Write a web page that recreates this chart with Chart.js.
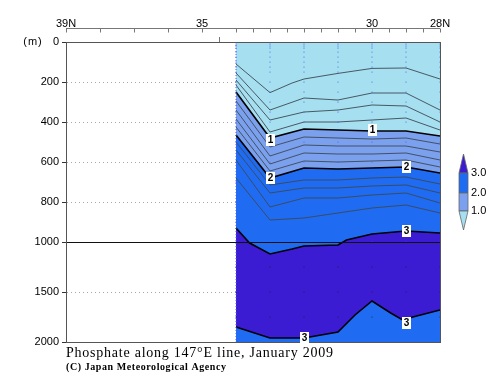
<!DOCTYPE html>
<html>
<head>
<meta charset="utf-8">
<script src="https://cdn.jsdelivr.net/npm/chart.js@4.4.1/dist/chart.umd.min.js"></script>
<style>
  html, body { margin: 0; padding: 0; background: #fff; }
  #wrap { width: 500px; height: 387px; }
</style>
</head>
<body>
<div id="wrap"><canvas id="c"></canvas></div>
<script>
// stations along 147E (deg N)
const stations = [34, 33, 32, 31, 30, 29, 28];
const sampleDepths = [0, 10, 20, 30, 50, 75, 100, 125, 150, 200, 250, 300, 350, 400, 500, 600, 700, 800, 900, 1000, 1250, 1500, 1750, 2000];
const surface = [0, 0, 0, 0, 0, 0, 0];

// contour depths (m)
const latA = [34, 33, 32.35, 32, 31, 30, 29, 28];
const c02 = [110, 253, 205, 185, 157, 132, 130, 185];
const c04 = [155, 340, 280, 290, 255, 255, 340];
const c06 = [190, 390, 350, 340, 315, 320, 400];
const c08 = [215, 450, 400, 400, 390, 380, 440];
const c10 = [250, 480, 435, 440, 445, 445, 470];
const c12 = [295, 525, 475, 480, 485, 480, 510];
const c14 = [340, 570, 515, 520, 520, 520, 550];
const c16 = [385, 610, 555, 560, 560, 555, 590];
const c18 = [425, 645, 595, 600, 595, 590, 625];
const c20 = [465, 680, 630, 635, 630, 625, 655];
const c22 = [500, 715, 690, 690, 680, 675, 710];
const c24 = [540, 755, 730, 730, 720, 715, 755];
const c26 = [590, 825, 780, 780, 765, 755, 805];
const c28 = [680, 890, 880, 855, 830, 815, 855];
const lat30u = [34, 33.6, 33, 32.35, 32, 31, 30.75, 30, 29, 28];
const c30u = [930, 1010, 1120, 1070, 1040, 1030, 990, 960, 945, 955];
const lat30l = [34, 33, 32, 31, 30.5, 30, 29.45, 29.1, 28.8, 28];
const c30l = [1850, 1960, 1960, 1900, 1730, 1590, 1710, 1780, 1750, 1680];

// contour labels
const labelLat = [33, 30, 33, 29, 29, 32, 29];
const labelDepth = [490, 440, 680, 625, 945, 1960, 1810];
const labelText = ['1', '1', '2', '2', '3', '3', '3'];

// axes
const yTickDepths = [0, 200, 400, 600, 800, 1000, 1500, 2000];
const topLabels = [[39, '39N'], [35, '35'], [30, '30'], [28, '28N']];
const legendLevels = ['1.0', '2.0', '3.0'];
const bandColors = ['#a6dff0', '#7aa0ee', '#1f6cf2', '#3c1cd2'];

// depth below 1000 m is drawn at half scale
const tY = d => d <= 1000 ? d : 1000 + (d - 1000) / 2;
const pts = (lats, depths) => lats.map((x, i) => ({ x, y: tY(depths[i]) }));

function band(lats, depths, color, order, thick) {
  return {
    type: 'line', data: pts(lats, depths),
    borderColor: thick ? '#000' : 'transparent', borderWidth: thick ? 1.6 : 0,
    backgroundColor: color, fill: { value: tY(2000) },
    pointRadius: 0, tension: 0, order
  };
}
function iso(lats, depths) {
  return {
    type: 'line', data: pts(lats, depths), borderColor: '#3c4854', borderWidth: 0.9,
    fill: false, pointRadius: 0, tension: 0, order: 3
  };
}

const samplePts = [];
stations.forEach(s => sampleDepths.forEach(d => samplePts.push({ x: s, y: tY(d) })));

const datasets = [
  band(stations, surface, bandColors[0], 20, false),
  band(stations, c10, bandColors[1], 19, true),
  band(stations, c20, bandColors[2], 18, true),
  band(lat30u, c30u, bandColors[3], 17, true),
  band(lat30l, c30l, bandColors[2], 16, true),
  iso(latA, c02), iso(stations, c04), iso(stations, c06), iso(stations, c08),
  iso(stations, c12), iso(stations, c14), iso(stations, c16), iso(stations, c18),
  iso(stations, c22), iso(stations, c24), iso(stations, c26), iso(stations, c28),
  {
    type: 'line', data: [{ x: 34, y: 0 }, { x: 34, y: tY(2000) }], borderColor: '#4a5cff',
    borderWidth: 1, borderDash: [1, 2], pointRadius: 0, fill: false, order: 2
  },
  {
    type: 'scatter', data: samplePts, order: 1, pointRadius: 0.6, pointBorderWidth: 0,
    pointBackgroundColor: ctx => {
      const p = ctx.raw;
      return p && p.y > tY(1000) && p.y < tY(1800) ? '#222' : '#4a5cff';
    }
  }
];

const deco = {
  id: 'deco',
  afterDraw(chart) {
    const { ctx, chartArea: a, scales: { x, y } } = chart;
    ctx.save();
    // 1000 m line
    const y1 = Math.round(y.getPixelForValue(tY(1000))) + 0.5;
    ctx.strokeStyle = '#111'; ctx.lineWidth = 1;
    ctx.beginPath(); ctx.moveTo(a.left, y1); ctx.lineTo(a.right, y1); ctx.stroke();
    // frame
    ctx.strokeStyle = '#555';
    ctx.strokeRect(Math.round(a.left) + 0.5, Math.round(a.top) + 0.5, Math.round(a.right - a.left), Math.round(a.bottom - a.top));
    // top axis
    const ty = Math.round(a.top) - 13.5;
    ctx.strokeStyle = '#777';
    ctx.beginPath(); ctx.moveTo(x.getPixelForValue(39), ty); ctx.lineTo(x.getPixelForValue(28), ty); ctx.stroke();
    ctx.beginPath();
    for (let v = 39; v >= 28; v -= (v > 34 ? 1 : 0.5)) {
      const px = Math.round(x.getPixelForValue(v)) + 0.5;
      ctx.moveTo(px, ty); ctx.lineTo(px, ty + 4);
    }
    const p345 = Math.round(x.getPixelForValue(34.5)) + 0.5;
    ctx.moveTo(p345, a.top); ctx.lineTo(p345, a.top - 5);
    ctx.stroke();
    ctx.fillStyle = '#000';
    ctx.font = '11px "Liberation Sans", Arial, sans-serif';
    ctx.textAlign = 'center'; ctx.textBaseline = 'alphabetic';
    topLabels.forEach(([v, t]) => ctx.fillText(t, x.getPixelForValue(v), ty - 1.5));
    // unit
    ctx.textBaseline = 'middle';
    ctx.letterSpacing = '1px';
    ctx.fillText('(m)', 33, a.top);
    ctx.letterSpacing = '0px';
    // contour labels
    ctx.font = 'bold 10px "Liberation Sans", Arial, sans-serif';
    labelText.forEach((t, i) => {
      const px = x.getPixelForValue(labelLat[i]), py = y.getPixelForValue(tY(labelDepth[i]));
      ctx.fillStyle = '#fff';
      ctx.fillRect(Math.round(px - 4), Math.round(py - 6), 9, 12);
      ctx.fillStyle = '#000';
      ctx.fillText(t, px + 0.5, py + 0.5);
    });
    // colour bar
    const cx = 459, cw = 9, lv = [173, 193, 211];
    ctx.strokeStyle = '#666'; ctx.lineWidth = 0.8;
    const shape = (col, path) => { ctx.fillStyle = col; ctx.beginPath(); path(); ctx.closePath(); ctx.fill(); ctx.stroke(); };
    shape(bandColors[3], () => { ctx.moveTo(cx, lv[0]); ctx.lineTo(cx + cw / 2, 154); ctx.lineTo(cx + cw, lv[0]); });
    shape(bandColors[2], () => ctx.rect(cx, lv[0], cw, lv[1] - lv[0]));
    shape(bandColors[1], () => ctx.rect(cx, lv[1], cw, lv[2] - lv[1]));
    shape(bandColors[0], () => { ctx.moveTo(cx, lv[2]); ctx.lineTo(cx + cw / 2, 230); ctx.lineTo(cx + cw, lv[2]); });
    ctx.fillStyle = '#000'; ctx.textAlign = 'left';
    ctx.font = '11px "Liberation Sans", Arial, sans-serif';
    legendLevels.forEach((t, i) => ctx.fillText(t, 471, lv[2 - i]));
    // titles
    const spaced = (text, font, x0, yb, width) => {
      ctx.font = font; ctx.letterSpacing = '0px';
      const w = ctx.measureText(text).width;
      ctx.letterSpacing = ((width - w) / (text.length - 1)) + 'px';
      ctx.fillText(text, x0, yb);
      ctx.letterSpacing = '0px';
    };
    ctx.textBaseline = 'alphabetic';
    spaced('Phosphate along 147°E line, January 2009', '14px "Liberation Serif", serif', 66, 357, 267);
    spaced('(C) Japan Meteorological Agency', 'bold 10px "Liberation Serif", serif', 66, 370, 160);
    ctx.restore();
  }
};

new Chart(document.getElementById('c'), {
  type: 'line',
  data: { datasets },
  options: {
    responsive: true, maintainAspectRatio: false, animation: false,
    layout: { padding: { left: 0, right: 60, top: 42, bottom: 45 } },
    plugins: { legend: { display: false }, tooltip: { enabled: false } },
    scales: {
      x: { type: 'linear', min: 28, max: 39, reverse: true, display: false },
      y: {
        type: 'linear', min: 0, max: tY(2000), reverse: true, z: 1,
        afterFit: s => { s.width = 66; },
        afterBuildTicks: s => { s.ticks = yTickDepths.map(d => ({ value: tY(d) })); },
        ticks: {
          padding: 3, color: '#000', autoSkip: false,
          font: { family: '"Liberation Sans", Arial, sans-serif', size: 11 },
          callback: (v, i) => String(yTickDepths[i])
        },
        grid: {
          tickLength: 4, tickColor: '#333', lineWidth: 1,
          color: c => [200, 400, 600, 800, 1250].includes(c.tick && c.tick.value) ? '#a8a8a8' : 'transparent'
        },
        border: { display: true, color: '#555', dash: [1, 3] }
      }
    }
  },
  plugins: [deco]
});
</script>
</body>
</html>
